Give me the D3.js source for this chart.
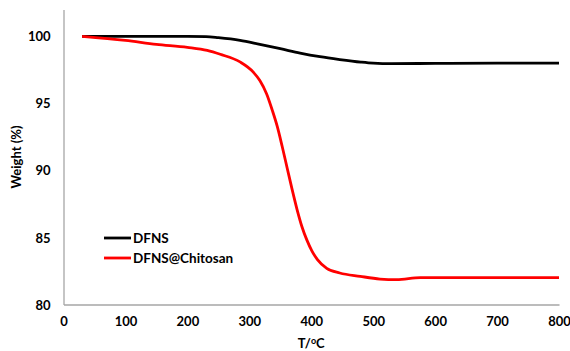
<!DOCTYPE html>
<html>
<head>
<meta charset="utf-8">
<script src="https://cdn.jsdelivr.net/npm/d3@7/dist/d3.min.js"></script>
<style>
  body { margin: 0; background: #fff; }
  svg text { font-family: Lato, "Open Sans", "Liberation Sans", sans-serif; font-weight: bold; fill: #000; }
</style>
</head>
<body>
<svg id="chart" width="570" height="351"></svg>
<script>
// TGA curves: temperature (°C) vs remaining weight (%)
const dfnsTemp   = [30, 100, 200, 230, 250, 285, 317, 350, 382, 414, 446, 480, 500, 530, 600, 700, 800];
const dfnsWeight = [100, 100, 100, 99.98, 99.9, 99.7, 99.4, 99.08, 98.75, 98.48, 98.27, 98.08, 98.0, 97.96, 97.98, 98.0, 98.0];

const chitTemp   = [30, 100, 150, 200, 232, 253, 285, 306, 317, 328, 337, 345, 353, 361, 369, 377, 385, 393, 401, 410, 425, 446, 479, 511, 538, 576, 608, 700, 800];
const chitWeight = [100, 99.7, 99.4, 99.18, 98.95, 98.66, 98.09, 97.35, 96.7, 95.7, 94.5, 93.3, 91.8, 90.2, 88.6, 87.1, 85.8, 84.8, 84.0, 83.35, 82.7, 82.35, 82.1, 81.9, 81.85, 82.0, 82.0, 82.0, 82.0];

const xTicks = [0, 100, 200, 300, 400, 500, 600, 700, 800];
const yTicks = [80, 85, 90, 95, 100];

const seriesNames = ["DFNS", "DFNS@Chitosan"];
const seriesColors = ["#000000", "#ff0000"];

const svg = d3.select("#chart");
const x = d3.scaleLinear().domain([0, 800]).range([63.5, 559]);
const y = d3.scaleLinear().domain([80, 102]).range([304.5, 9.5]);

// axes: grey lines, no tick marks
const xAxis = d3.axisBottom(x).tickValues(xTicks).tickSize(0).tickPadding(12);
const yAxis = d3.axisLeft(y).tickValues(yTicks).tickSize(0).tickPadding(13);

const gx = svg.append("g").attr("transform", `translate(0,${y(80)})`).call(xAxis);
const gy = svg.append("g").attr("transform", `translate(${x(0)},0)`).call(yAxis);
[gx, gy].forEach(g => {
  g.select(".domain").attr("stroke", "#a6a6a6").attr("stroke-width", 1.3);
  g.selectAll("text").attr("font-size", 13).attr("font-family", null).attr("fill", "#000");
});
gy.selectAll("text").attr("dy", "0.35em");

// axis titles
svg.append("text")
  .attr("transform", `translate(21,${(y(80) + y(102)) / 2}) rotate(-90)`)
  .attr("text-anchor", "middle")
  .attr("font-size", 13)
  .text("Weight (%)");

const xt = svg.append("text")
  .attr("x", (x(0) + x(800)) / 2)
  .attr("y", 348)
  .attr("text-anchor", "middle")
  .attr("font-size", 13);
xt.append("tspan").text("T/");
xt.append("tspan").attr("font-size", 9).attr("dy", -4).text("o");
xt.append("tspan").attr("dy", 4).text("C");

// curves
const line = d3.line().x(d => x(d[0])).y(d => y(d[1])).curve(d3.curveMonotoneX);
const series = [
  d3.zip(dfnsTemp, dfnsWeight),
  d3.zip(chitTemp, chitWeight)
];
series.forEach((pts, i) => {
  svg.append("path")
    .datum(pts)
    .attr("fill", "none")
    .attr("stroke", seriesColors[i])
    .attr("stroke-width", 2.8)
    .attr("stroke-linejoin", "round")
    .attr("d", line);
});

// legend
const legend = svg.append("g").attr("transform", "translate(104,238)");
seriesNames.forEach((name, i) => {
  const g = legend.append("g").attr("transform", `translate(0,${i * 20})`);
  g.append("line").attr("x1", 0).attr("x2", 27).attr("y1", 0).attr("y2", 0)
    .attr("stroke", seriesColors[i]).attr("stroke-width", 2.8);
  g.append("text").attr("x", 29).attr("dy", "0.36em").attr("font-size", 13.5).text(name);
});
</script>
</body>
</html>
